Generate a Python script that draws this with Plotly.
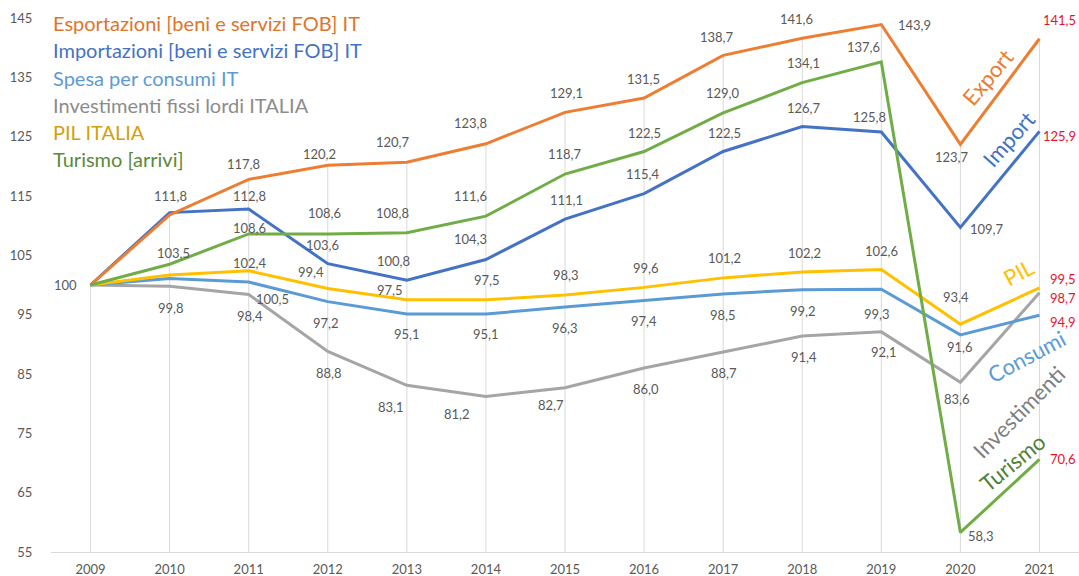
import numpy as np
import plotly.graph_objects as go

# ---------------- data ----------------
years = [2009, 2010, 2011, 2012, 2013, 2014, 2015, 2016, 2017, 2018, 2019, 2020, 2021]
export_vals = [100, 111.8, 117.8, 120.2, 120.7, 123.8, 129.1, 131.5, 138.7, 141.6, 143.9, 123.7, 141.5]
import_vals = [100, 112.2, 112.8, 103.6, 100.8, 104.3, 111.1, 115.4, 122.5, 126.7, 125.8, 109.7, 125.9]
consumi_vals = [100, 101.1, 100.5, 97.2, 95.1, 95.1, 96.3, 97.4, 98.5, 99.2, 99.3, 91.6, 94.9]
invest_vals = [100, 99.8, 98.4, 88.8, 83.1, 81.2, 82.7, 86.0, 88.7, 91.4, 92.1, 83.6, 98.7]
pil_vals = [100, 101.7, 102.4, 99.4, 97.5, 97.5, 98.3, 99.6, 101.2, 102.2, 102.6, 93.4, 99.5]
turismo_vals = [100, 103.5, 108.6, 108.6, 108.8, 111.6, 118.7, 122.5, 129.0, 134.1, 137.6, 58.3, 70.6]

series_names = [
    "Esportazioni [beni e servizi FOB] IT",
    "Importazioni [beni e servizi FOB] IT",
    "Spesa per consumi IT",
    "Investimenti fissi lordi ITALIA",
    "PIL ITALIA",
    "Turismo [arrivi]",
]
short_names = ["Export", "Import", "Consumi", "Investimenti", "PIL", "Turismo"]
y_ticks = [55, 65, 75, 85, 95, 105, 115, 125, 135, 145]

# ---------------- styles ----------------
line_colors = ["#ED7D31", "#4472C4", "#5B9BD5", "#A5A5A5", "#FFC000", "#70AD47"]
text_colors = ["#E07428", "#4472C4", "#5B9BD5", "#8C8C8C", "#D4A00A", "#5A8A3A"]
rot_colors = ["#ED7D31", "#4472C4", "#5B9BD5", "#7F7F7F", "#FFC000", "#548235"]
FONT = "Lato, Calibri, Arial, sans-serif"
LABEL_GRAY = "#595959"
RED = "#E8112D"

# pixel offsets of data labels (dx, dy screen-down); None = no label
off_export = [(-25, 0), (1, -19), (-5, -15), (-8, -11), (-14, -20), (-15, -21), (1, -19), (-1, -19),
              (-6, -18), (-6, -19), (33, 0), (-8, 13), (20, -19)]
off_import = [None, None, (1, -13), (-5, -19), (-13, -19), (-15, -20), (1, -19), (-1, -20),
              (1, -19), (2, -19), (-12, -15), (27, 2), (20, 5)]
off_consumi = [None, None, (24, 17), (-2, 21), (0, 20), (0, 20), (0, 21), (0, 21),
               (0, 21), (1, 21), (-4, 25), (0, 12), (24, 7)]
off_invest = [None, (1, 22), (1, 22), (1, 22), (-16, 22), (-29, 17), (-14, 17), (2, 21),
              (1, 21), (2, 21), (3, 20), (-3, 17), (24, 5)]
off_pil = [None, None, (1, -8), (-17, -17), (-17, -10), (1, -20), (1, -20), (2, -19),
           (1, -20), (2, -19), (0, -19), (-4, -27), (24, -9)]
off_turismo = [None, (4, -11), (1, -6), (-3, -21), (-14, -20), (-15, -20), (0, -20), (0, -19),
               (0, -20), (1, -20), (-18, -15), (21, 4), (24, 0)]

all_vals = [export_vals, import_vals, consumi_vals, invest_vals, pil_vals, turismo_vals]
all_offs = [off_export, off_import, off_consumi, off_invest, off_pil, off_turismo]

# rotated series labels: (pixel center x, center y, angle)
rot_pos = [(987, 77, -50), (1008, 139, -48), (1026, 356, -28), (1018, 412, -45), (1018, 272, -28), (1012, 462, -39)]

W, H = 1079, 576
ML, MR, MT, MB = 51, 0, 18, 24
PW, PH = W - ML - MR, H - MT - MB


def px2paper(px, py):
    return (px - ML) / PW, (H - MB - py) / PH


fig = go.Figure()

# drop lines from the highest value of each year to the axis
ymin = y_ticks[0]
tops = np.max(np.array(all_vals), axis=0)
dx_, dy_ = [], []
for yr, t in zip(years, tops):
    dx_ += [yr, yr, None]
    dy_ += [ymin, t, None]
fig.add_trace(go.Scatter(x=dx_, y=dy_, mode="lines", line=dict(color="#D9D9D9", width=1),
                         hoverinfo="skip", showlegend=False))

order = [3, 2, 4, 1, 0, 5]
for i in order:
    fig.add_trace(go.Scatter(x=years, y=all_vals[i], mode="lines", name=series_names[i],
                             line=dict(color=line_colors[i], width=3), showlegend=False))

annotations = []
for vals, offs in zip(all_vals, all_offs):
    for k, (yr, v, o) in enumerate(zip(years, vals, offs)):
        if o is None:
            continue
        last = k == len(years) - 1
        txt = f"{v:.1f}".replace(".", ",") if v != 100 else "100"
        annotations.append(dict(x=yr, y=v, xref="x", yref="y", text=txt, showarrow=False,
                                xshift=o[0], yshift=-o[1], xanchor="center", yanchor="middle",
                                font=dict(family=FONT, size=13, color=RED if last else LABEL_GRAY)))

leg_y = [23, 50, 78, 105, 132, 159]
for name, col, ly in zip(series_names, text_colors, leg_y):
    px, py = px2paper(51, ly)
    annotations.append(dict(x=px, y=py, xref="paper", yref="paper", text=name, showarrow=False,
                            xanchor="left", yanchor="middle",
                            font=dict(family=FONT, size=20, color=col)))

for name, col, (cx, cy, ang) in zip(short_names, rot_colors, rot_pos):
    px, py = px2paper(cx, cy)
    annotations.append(dict(x=px, y=py, xref="paper", yref="paper", text=name, showarrow=False,
                            xanchor="center", yanchor="middle", textangle=ang,
                            font=dict(family=FONT, size=22, color=col)))

fig.update_layout(
    width=W, height=H,
    margin=dict(l=ML, r=MR, t=MT, b=MB, pad=0),
    paper_bgcolor="white", plot_bgcolor="white",
    showlegend=False,
    annotations=annotations,
    font=dict(family=FONT, color=LABEL_GRAY, size=13),
)
fig.update_xaxes(range=[years[0] - 0.5, years[-1] + 0.5], tickvals=years, ticktext=[str(y) for y in years],
                 showgrid=False, zeroline=False, showline=True, linecolor="#D9D9D9", linewidth=1,
                 ticks="outside", ticklen=5, tickcolor="rgba(0,0,0,0)",
                 tickfont=dict(family=FONT, size=13, color=LABEL_GRAY), automargin=False, fixedrange=True)
fig.update_yaxes(range=[y_ticks[0], y_ticks[-1]], tickvals=y_ticks, showgrid=False, zeroline=False,
                 showline=False, ticks="outside", ticklen=15, tickcolor="rgba(0,0,0,0)",
                 tickfont=dict(family=FONT, size=13, color=LABEL_GRAY), automargin=False, fixedrange=True)

fig.write_html("out.html", config={"displayModeBar": False},
               post_script="document.body.style.margin='0';document.body.style.overflow='hidden';")
